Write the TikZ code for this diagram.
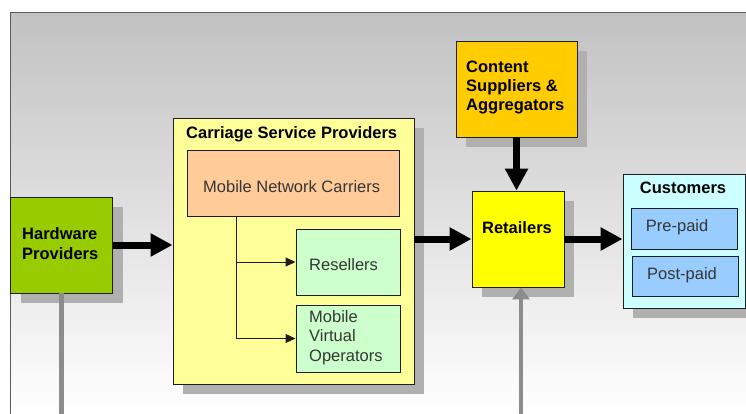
\documentclass[tikz,border=0pt]{standalone}
\usepackage{fontspec}
\setmainfont{Liberation Sans}
\usetikzlibrary{arrows.meta,fit,shadows}
\definecolor{hwgreen}{HTML}{99CC00}
\definecolor{cspyellow}{HTML}{FFFF99}
\definecolor{mncorange}{HTML}{FFCC99}
\definecolor{palegreen}{HTML}{CCFFCC}
\definecolor{contentgold}{HTML}{FFCC00}
\definecolor{retyellow}{HTML}{FFFF00}
\definecolor{custcyan}{HTML}{CCFFFF}
\definecolor{paidblue}{HTML}{99CCFF}
\definecolor{boxline}{HTML}{1E1E1E}
\definecolor{shadowgray}{HTML}{B0B0B0}
\definecolor{txtgray}{HTML}{363636}
\definecolor{linkgray}{HTML}{8C8C8C}
\definecolor{paneltop}{HTML}{C2C2C2}
\definecolor{panelline}{HTML}{5A5A5A}
\begin{document}
\begin{tikzpicture}[x=1pt,y=-1pt,
  box/.style={draw=boxline, line width=0.9pt, inner sep=0pt},
  shadowed/.style={drop shadow={shadow xshift=10pt,shadow yshift=-10pt,fill=shadowgray,opacity=1}},
  lbl/.style={inner sep=0pt, anchor=base west, align=left, font=\fontsize{16.5}{19.2}\selectfont},
  blbl/.style={lbl, font=\fontsize{16.5}{19.2}\selectfont\bfseries},
  bigarrow/.style={line width=7pt, -{Triangle[width=22pt,length=22pt]}},
  grayarrow/.style={draw=linkgray, line width=4.5pt, -{Triangle[width=17pt,length=12pt,fill=linkgray]}},
  grayline/.style={draw=linkgray, line width=4.5pt},
  treeline/.style={draw=boxline, line width=0.9pt},
  treearrow/.style={treeline, -{Triangle[width=9pt,length=10pt]}}
]
\useasboundingbox (0,0) rectangle (746,414);
\clip (0,0) rectangle (746,414);

% background panel
\shade[top color=paneltop, bottom color=white] (10.5,13) rectangle (760,414);
\draw[panelline, line width=1pt] (10.5,414) -- (10.5,13) -- (760,13);

% boxes
\node[box, fill=hwgreen, shadowed, fit={(10.5,197) (112.5,293)}] (hw) {};
\node[box, fill=cspyellow, shadowed, fit={(173,118) (414,384)}] (csp) {};
\node[box, fill=mncorange, fit={(187,150) (399.5,216)}] (mnc) {};
\node[box, fill=palegreen, fit={(296,229) (400,295)}] (res) {};
\node[box, fill=palegreen, fit={(296,305) (400,372)}] (mvo) {};
\node[box, fill=contentgold, shadowed, fit={(456,41) (577,137)}] (cs) {};
\node[box, fill=retyellow, shadowed, fit={(472,191) (564,287)}] (ret) {};
\node[box, fill=custcyan, shadowed, fit={(623,174) (745.5,308)}] (cust) {};
\node[box, fill=paidblue, fit={(631.5,208) (737,249)}] (pre) {};
\node[box, fill=paidblue, fit={(632,256) (738,296)}] (post) {};

% labels (multi-line labels are placed by the baseline of their last line)
\node[blbl] (hwt) at (22,259) {Hardware\\Providers};
\node[blbl] (cspt) at (186,138.3) {Carriage Service Providers};
\node[lbl, text=txtgray] (mnct) at (203,192.5) {Mobile Network Carriers};
\node[lbl, text=txtgray] (rest) at (309,270.3) {Resellers};
\node[lbl, text=txtgray] (mvot) at (309,361) {Mobile\\Virtual\\Operators};
\node[blbl] (cst) at (466,111) {Content\\Suppliers \&\\Aggregators};
\node[blbl, anchor=base] (rett) at (517,233.7) {Retailers};
\node[blbl, anchor=base] (custt) at (683,193.3) {Customers};
\node[lbl, text=txtgray] (pret) at (645.7,231) {Pre-paid};
\node[lbl, text=txtgray] (postt) at (647,279) {Post-paid};

% main flow arrows
\draw[bigarrow] (hw.east) -- (hw.east -| csp.west);
\draw[bigarrow] (ret.west -| csp.east) -- (ret.west);
\draw[bigarrow] (ret.east) -- (ret.east -| cust.west);
\draw[bigarrow] (cs.south) -- (cs.south |- ret.north);

% grey links leaving the panel
\coordinate (hwend) at (hw.south |- 0,414);
\draw[grayline] (hw.south) -- (hwend);
\coordinate (retend) at (521,414);
\draw[grayarrow] (retend) -- (retend |- ret.south);

% carrier tree
\coordinate (trunk) at (mnc.south -| 236,0);
\draw[treearrow] (trunk) |- (mvo.west);
\draw[treearrow] (trunk |- res.west) -- (res.west);
\end{tikzpicture}
\end{document}
